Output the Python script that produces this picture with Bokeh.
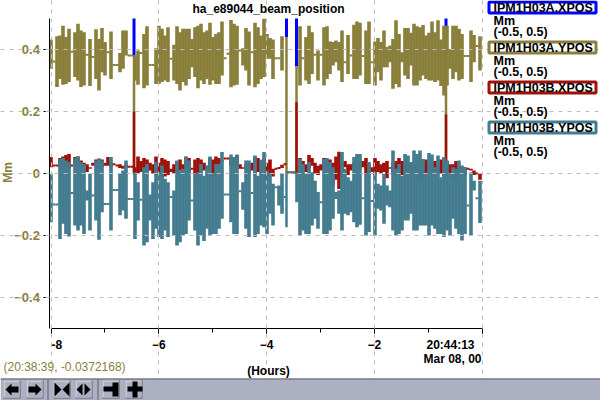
from bokeh.plotting import figure
from bokeh.models import Label, BoxAnnotation, PolyAnnotation, FixedTicker, Range1d
from bokeh.embed import file_html
from bokeh.resources import INLINE
import numpy as np

F = lambda v: (v, v)
title = "ha_e89044_beam_position"
trace_names = ["IPM1H03A.XPOS", "IPM1H03A.YPOS", "IPM1H03B.XPOS", "IPM1H03B.YPOS"]
trace_unit = "Mm"
trace_range = "(-0.5, 0.5)"
status_text = "(20:38:39, -0.0372168)"
x_major = [-8, -6, -4, -2, 0]
x_minor = [-7, -5, -3, -1]
y_major = [-0.4, -0.2, 0, 0.2, 0.4]

# (high, low) of each time column, one column per 1/18 hour
olive_a = [(.432,.338),F(.361),(.443,.279),(.445,.305),(.477,.286),(.440,.289),(.467,.295),F(.393),
 (.456,.311),(.483,.300),(.461,.279),(.456,.284),F(.383),(.434,.282),F(.376),(.465,.305),(.434,.268),
 (.469,.327),(.424,.316),F(.391),(.458,.305),F(.350),F(.350),(.389,.327),(.461,.338),(.461,.381),
 F(.381),F(.381),(.38,.30),(.397,.286),F(.389),(.450,.275),(.475,.284),F(.350),F(.350),(.404,.289),
 (.477,.289),(.467,.295),(.445,.300),(.472,.295),F(.370),(.415,.300),(.475,.289),(.456,.268),
 (.467,.295),(.467,.284),(.467,.305),(.434,.343)]
gap = (np.nan, np.nan)
olive_b = [(.472,.311),(.477,.275),(.483,.300),(.456,.289),(.461,.305),(.486,.286),(.440,.300),(.450,.289),
 (.456,.289),(.490,.316),F(.372),F(.386),(.495,.278),(.483,.284),(.477,.286),F(.397),(.404,.348),
 (.469,.332),(.458,.284),F(.391),(.486,.278),(.472,.289),(.445,.305),(.499,.311),(.450,.370),(.437,.370),
 (.432,.305),F(.372),F(.372),(.443,.332),gap,gap,gap,gap,gap,(.475,.284),F(.372),(.440,.300),(.477,.289),
 (.456,.321),F(.383),(.397,.300),F(.383),(.472,.284),(.475,.305),(.426,.321),(.424,.348),(.429,.359)]
olive_c = [(.424,.332),(.461,.295),F(.359),(.447,.321),F(.381),(.480,.305),(.490,.305),(.486,.316),F(.379),
 (.461,.289),(.490,.289),F(.359),(.426,.284),(.437,.327),(.424,.300),(.461,.343),(.408,.343),(.413,.359),
 (.434,.273),(.494,.289),(.450,.278),(.391,.359),(.469,.316),(.469,.305),(.454,.348),(.483,.284),(.475,.284),
 (.472,.300),(.479,.316),(.445,.305),(.454,.300),(.490,.300),(.456,.295),(.494,.300),(.432,.282),(.477,.252),
 (.477,.284),(.402,.338),(.477,.305),(.477,.327),(.467,.300),(.450,.305),F(.379),F(.379),(.461,.295),
 (.447,.359),F(.411),(.443,.332)]

red_a = [(.053,.020),F(.026),F(.026),(.050,.020),(.055,.015),(.060,.020),(.063,.015),F(.026),(.053,.028),
 (.055,.020),(.042,.020),(.035,.025),(.030,.005),(.020,.015),(.035,.025),(.045,.025),(.048,.015),(.045,.020),
 (.035,.025),(.053,.025),(.035,.020),F(.030),F(.026),(.030,.018),(.025,.015),(.030,.018),F(.022),F(.022),
 (.020,-.005),(.055,.000),(.040,.005),(.050,.015),(.045,.005),(.035,.010),(.030,.000),(.055,.000),(.035,-.010),
 (.050,-.015),(.045,-.010),(.040,-.005),(.015,.005),(.030,.000),(.040,.010),(.045,.010),(.030,.005),(.055,.010),
 (.050,.000),F(.015)]
red_b = [(.045,.000),(.050,-.030),(.045,.000),(.035,.010),(.025,.010),(.050,.005),(.045,.000),(.055,.010),
 (.050,.020),F(.040),F(.048),F(.048),(.048,.025),(.050,.025),(.060,.030),(.030,.015),(.020,.015),(.030,.015),
 (.025,.000),(.035,.010),(.055,.000),(.050,.005),(.040,.005),(.050,.000),(.035,-.010),(.045,.000),(.015,-.010),
 F(.015),F(.018),(.028,.018),F(.030),F(.003),F(.003),F(.003),F(.003),(.050,.000),(.040,.005),(.030,.005),
 (.060,.015),(.050,.025),(.035,.000),(.025,-.005),(.030,.010),(.050,.015),(.045,.005),(.045,.000),(.035,-.040),
 (.055,-.020)]
red_c = [(.070,-.050),(.030,-.010),(.040,.020),(.030,-.005),(.030,.010),(.035,.020),(.040,.010),(.040,.015),
 (.040,.020),(.050,.000),(.030,-.005),(.020,.005),(.050,-.005),(.040,.005),(.030,.000),(.035,.005),(.040,-.015),
 (.020,.015),(.035,-.005),(.040,.000),(.050,.000),(.040,-.005),(.040,.005),(.035,.005),(.030,.000),(.030,.000),
 (.025,-.005),(.020,-.020),(.040,-.010),(.045,.000),(.030,.010),(.035,.010),(.040,.000),(.025,.010),(.045,.000),
 (.050,-.010),(.040,.005),(.030,.000),(.030,-.020),(.040,-.015),(.025,-.010),(.020,.000),(.020,-.005),F(.015),
 (.015,.010),(.010,-.005),F(.000),(.000,-.020)]

teal_a = [(-.001,-.157),F(-.100),F(-.100),(.047,-.211),(.050,-.162),(.042,-.195),(.037,-.203),F(-.063),
 (.050,-.168),(.055,-.184),(.037,-.168),(.031,-.195),(-.055,-.087),(-.001,-.184),F(-.071),(.042,-.152),
 (.047,-.214),(.042,-.125),F(-.098),F(-.098),(.053,-.184),F(-.053),F(-.053),(-.001,-.135),(.010,-.119),
 (.042,-.146),F(-.082),F(-.082),(.004,-.211),(-.028,-.152),F(-.085),(.020,-.232),(.031,-.222),(-.068,-.152),
 (-.028,-.211),(.037,-.178),(.004,-.205),(.026,-.211),(-.017,-.184),(-.028,-.205),F(-.076),(-.055,-.200),
 (.042,-.232),(.010,-.222),(.015,-.200),(.053,-.195),(.042,-.152),F(-.087)]
teal_b = [(-.001,-.184),(.004,-.232),(.031,-.200),(-.007,-.218),(.026,-.178),(.055,-.200),(-.001,-.195),
 (.031,-.195),(.031,-.178),(.069,-.146),F(-.068),F(-.068),(.061,-.157),(.053,-.195),(.061,-.195),F(-.057),
 (-.028,-.117),(.042,-.178),(.042,-.205),F(-.063),(.058,-.205),(-.007,-.195),(.044,-.168),(.069,-.173),
 (.010,-.195),(-.001,-.130),(-.033,-.168),F(-.044),(-.039,-.103),(-.001,-.130),F(-.076),F(.004),F(.004),F(.004),
 (.004,-.093),(.047,-.200),(.031,-.184),(-.001,-.195),(.037,-.195),(.004,-.168),(-.023,-.146),(-.060,-.178),
 F(-.093),(.047,-.195),(.050,-.195),(.037,-.184),(.020,-.146),(-.060,-.082)]
teal_c = [(-.055,-.130),(.069,-.184),(.015,-.130),(-.012,-.135),(-.023,-.125),(.053,-.157),(.063,-.173),
 (.063,-.165),F(-.080),(-.001,-.200),(.037,-.189),F(-.089),(.004,-.200),(-.033,-.114),(-.039,-.119),(-.001,-.162),
 (-.039,-.103),(-.055,-.109),(.074,-.184),(.015,-.200),(.031,-.195),(-.007,-.184),(.063,-.152),(.058,-.152),
 (.037,-.130),(.074,-.184),(.063,-.184),(.074,-.168),(.047,-.168),(-.001,-.168),(.066,-.200),(.061,-.168),
 (.020,-.178),(.058,-.195),(-.012,-.195),(.053,-.205),(.042,-.184),(-.001,-.200),(.020,-.146),(.015,-.178),
 (.042,-.195),(.026,-.216),(.020,-.195),F(-.103),(.004,-.200),(-.023,-.055),F(-.080),(-.023,-.160)]

# the four dropouts, where the traces jump
spike_hours = [-6.459, -3.629, -3.443, -0.668]
blue_spike_low = [.38, .44, .345, .474]
blue_thin_low = .43
olive_spike_top = [.38, .44, .345, .43]
red_spike_top = [.20, np.nan, .23, .19]
teal_spike_low = [np.nan, -.173, np.nan, np.nan]
off_scale = 0.5

BLUE, OLIVE, RED, TEAL = "#0000ff", "#8a7f3a", "#a01008", "#437b8f"
W, H = 600, 400
PXH, PXV = 431 / 8, 310.0        # pixels per hour, pixels per Mm
X0, YTOP = 50.5, 18              # where -8 h and +0.5 Mm lie in the picture
BIN = 3 / PXH

p = figure(width=W, height=H, output_backend="svg", toolbar_location=None,
           x_range=Range1d(-8 - X0 / PXH, -8 + (W - X0) / PXH),
           y_range=Range1d(0.5 - (H - YTOP) / PXV, 0.5 + YTOP / PXV),
           min_border=0, outline_line_color=None, background_fill_color="white", border_fill_color="white")

def trace(cols, color):
    a = np.array(cols, dtype=float)
    x = -8 + BIN * np.arange(len(a))
    hi, lo = a[:, 0], a[:, 1]
    tall = (hi != lo) & ~np.isnan(hi)
    flat = (hi == lo)
    p.segment(x[tall], hi[tall], x[tall], lo[tall], line_color=color, line_width=3.6)
    p.segment(x[flat] - BIN / 2, hi[flat], x[flat] + BIN / 2, hi[flat], line_color=color, line_width=2)

sx = np.array(spike_hours)
p.segment(sx, np.full(4, off_scale), sx, blue_spike_low, line_color=BLUE, line_width=3)
p.segment(sx[3:], [blue_spike_low[3]], sx[3:], [blue_thin_low], line_color=BLUE, line_width=1)
trace(olive_a + olive_b + olive_c, OLIVE)
p.segment(sx, olive_spike_top, sx, np.zeros(4), line_color=OLIVE, line_width=2.5)
trace(red_a + red_b + red_c, RED)
p.segment(sx, red_spike_top, sx, np.zeros(4), line_color=RED, line_width=2.5)
trace(teal_a + teal_b + teal_c, TEAL)
p.segment(sx, np.zeros(4), sx, teal_spike_low, line_color=TEAL, line_width=2.5)

# axes, pinned to the data edges inside the full-page frame
xa, ya = p.xaxis[0], p.yaxis[0]
xa.fixed_location = -0.5
ya.fixed_location = -8.02
xa.bounds = (-8, 0)
ya.bounds = (-0.5, 0.5)
xa.ticker = FixedTicker(ticks=x_major, minor_ticks=x_minor)
xa.major_label_overrides = {-8: "", 0: ""}
xa.major_label_text_font = "Liberation Sans"
xa.major_label_text_font_style = "bold"
xa.major_label_text_font_size = "12px"
xa.major_label_text_color = "black"
xa.major_tick_in = 0; xa.major_tick_out = 8
xa.minor_tick_in = 0; xa.minor_tick_out = 4
xa.major_label_standoff = 3
xa.axis_line_color = "black"
ya.ticker = FixedTicker(ticks=y_major, minor_ticks=[])
ya.major_label_overrides = {0: "0"}
ya.major_label_text_font = "Liberation Sans"
ya.major_label_text_font_style = "bold"
ya.major_label_text_font_size = "13px"
ya.major_label_text_color = OLIVE
ya.major_tick_in = 0; ya.major_tick_out = 6
ya.major_label_standoff = 4
ya.axis_line_color = "black"
p.xgrid.ticker = FixedTicker(ticks=x_major)
p.ygrid.ticker = FixedTicker(ticks=y_major)
p.xgrid[0].bounds = (-0.5, 0.5)
p.ygrid[0].bounds = (-8, 0)
for g in (p.xgrid[0], p.ygrid[0]):
    g.grid_line_color = "#bdbdbd"
    g.grid_line_dash = "4 5"
    g.grid_line_width = 1
    g.level = "overlay"

# page furniture, positioned in picture pixels
syp = lambda y: H - y

def text(x, y, s, size=12, bold=True, color="black", align="left", angle=0):
    p.add_layout(Label(x=x, y=syp(y), x_units="screen", y_units="screen", text=s,
                       text_font="Liberation Sans", text_font_size=f"{size}px",
                       text_font_style="bold" if bold else "normal", text_color=color,
                       text_align=align, text_baseline="middle", angle=angle, angle_units="deg",
                       level="overlay"))

def box(l, t, r, b, fill, line=None, width=0):
    p.add_layout(BoxAnnotation(left=l, right=r, top=syp(t), bottom=syp(b),
                               left_units="screen", right_units="screen", top_units="screen", bottom_units="screen",
                               fill_color=fill, fill_alpha=1, line_color=line, line_width=width, line_alpha=1,
                               level="overlay"))

def poly(pts, bx, by):
    p.add_layout(PolyAnnotation(xs=[bx + a for a, b in pts], ys=[syp(by + b) for a, b in pts],
                                xs_units="screen", ys_units="screen", fill_color="black", fill_alpha=1,
                                line_color=None, level="overlay"))

# button bar
box(0, 378, 600, 400, "#adb0c3")
box(0, 378, 600, 379, "#5f6066")
for sep in (47, 97):
    box(sep, 379, sep + 1, 400, "#5f6066")
for bx in (3, 26, 53, 75, 102, 125):
    box(bx, 380, bx + 17, 398, "#5f6066")
    box(bx, 380, bx + 16, 397, "#e3e4ec")
    box(bx + 1, 381, bx + 16, 397, "#adb0c3")
L = [(2,9),(8,3),(8,6),(15,6),(15,12),(8,12),(8,15)]
poly(L, 3, 380)
poly([(17 - a, b) for a, b in L], 26, 380)
poly([(1,2),(8,9),(1,16)], 53, 380); poly([(16,2),(9,9),(16,16)], 53, 380)
poly([(7,3),(7,15),(1,9)], 75, 380); poly([(9,3),(9,15),(15,9)], 75, 380)
poly([(1,6),(10,6),(10,2),(16,2),(16,16),(10,16),(10,11),(1,11)], 102, 380)
poly([(2,6),(7,6),(7,1),(12,1),(12,6),(17,6),(17,11),(12,11),(12,17),(7,17),(7,11),(2,11)], 125, 380)

for i, (nm, col) in enumerate(zip(trace_names, [BLUE, OLIVE, RED, TEAL])):
    top = 40 * i
    box(488.5, top + 1.5, 595.5, top + 12.5, "white", col, 3)
    text(493, top + 7, nm, 12.5)
    text(493, top + 20, trace_unit, 12.5)
    text(493, top + 31, trace_range, 12.5)

text(268, 8, title, 12, align="center")
text(7, 172, trace_unit, 12, color=OLIVE, align="center", angle=90)
text(51, 344, "-8", 12)
text(450, 344, "20:44:13", 12, align="center")
text(481, 358, "Mar 08, 00", 12, align="right")
text(268, 370, "(Hours)", 12, align="center")
text(3, 366, status_text, 12, bold=False, color=OLIVE)

open("out.html", "w").write(file_html(p, INLINE))
